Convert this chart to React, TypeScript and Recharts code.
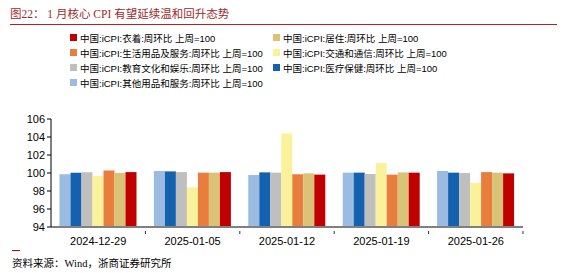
import { BarChart, Bar, XAxis, YAxis } from 'recharts'

const weeks = ['2024-12-29', '2025-01-05', '2025-01-12', '2025-01-19', '2025-01-26']

// 中国:iCPI 各分项 周环比 上周=100
const other = [99.87, 100.22, 99.78, 100.04, 100.22]
const medical = [100.03, 100.18, 100.07, 100.04, 100.04]
const education = [100.08, 100.1, 100.04, 99.89, 100.0]
const transport = [99.67, 98.4, 104.4, 101.1, 98.9]
const household = [100.28, 100.04, 99.86, 99.82, 100.1]
const housing = [100.02, 100.04, 99.96, 100.07, 100.04]
const clothing = [100.1, 100.1, 99.82, 100.04, 99.96]

const yTicks = [94, 96, 98, 100, 102, 104, 106]

const series = [
  { key: 'other', name: '中国:iCPI:其他用品和服务:周环比 上周=100', color: '#9BBBE0' },
  { key: 'medical', name: '中国:iCPI:医疗保健:周环比 上周=100', color: '#1461AF' },
  { key: 'education', name: '中国:iCPI:教育文化和娱乐:周环比 上周=100', color: '#BFBFBF' },
  { key: 'transport', name: '中国:iCPI:交通和通信:周环比 上周=100', color: '#F9F29B' },
  { key: 'household', name: '中国:iCPI:生活用品及服务:周环比 上周=100', color: '#E97D3E' },
  { key: 'housing', name: '中国:iCPI:居住:周环比 上周=100', color: '#DAC277' },
  { key: 'clothing', name: '中国:iCPI:衣着:周环比 上周=100', color: '#C00000' },
]

const legendLeft = ['clothing', 'household', 'education', 'other']
const legendRight = ['housing', 'transport', 'medical']

const data = weeks.map((w, i) => ({
  week: w,
  other: other[i],
  medical: medical[i],
  education: education[i],
  transport: transport[i],
  household: household[i],
  housing: housing[i],
  clothing: clothing[i],
}))

const cjk = '"Liberation Sans", "Noto Sans CJK SC", sans-serif'
const serif = '"Liberation Serif", "Noto Sans CJK SC", serif'

function WeekTick(props: any) {
  const { x, y, payload } = props
  const half = (523 - 51) / weeks.length / 2
  return (
    <g>
      <line x1={x + half} x2={x + half} y1={y - 4} y2={y - 1} stroke="#333" strokeWidth={1} />
      <text x={x} y={y + 10} textAnchor="middle" fontSize={11} fill="#000" fontFamily={cjk}>
        {payload.value}
      </text>
    </g>
  )
}

function LegendItem({ k }: { k: string }) {
  const s = series.find((d) => d.key === k)!
  return (
    <div style={{ display: 'flex', alignItems: 'center', height: 15, whiteSpace: 'nowrap' }}>
      <span style={{ width: 7, height: 7, background: s.color, marginRight: 3, display: 'inline-block' }} />
      <span style={{ fontSize: 9.5, fontFamily: cjk, color: '#000' }}>{s.name}</span>
    </div>
  )
}

export default function App() {
  return (
    <div style={{ position: 'absolute', left: 0, top: 0, width: 567, height: 273, background: '#fff' }}>
      <div style={{ position: 'absolute', left: 10, top: 5, fontSize: 11.5, fontFamily: serif, color: '#9E2A2B', whiteSpace: 'nowrap' }}>
        图22： 1 月核心 CPI 有望延续温和回升态势
      </div>
      <div style={{ position: 'absolute', left: 10, top: 24, width: 547, height: 1, background: '#B22222' }} />
      <div style={{ position: 'absolute', left: 70, top: 30 }}>
        {legendLeft.map((k) => <LegendItem key={k} k={k} />)}
      </div>
      <div style={{ position: 'absolute', left: 273, top: 30 }}>
        {legendRight.map((k) => <LegendItem key={k} k={k} />)}
      </div>
      <BarChart
        width={567}
        height={273}
        data={data}
        margin={{ top: 119, right: 44, bottom: 26, left: 0 }}
        barCategoryGap="9%"
        barGap={0}
        style={{ position: 'absolute', left: 0, top: 0 }}
      >
        <XAxis
          dataKey="week"
          axisLine={{ stroke: '#808080', strokeWidth: 2 }}
          tickLine={false}
          tick={<WeekTick />}
          height={20}
          interval={0}
        />
        <YAxis
          domain={[94, 106]}
          ticks={yTicks}
          width={51}
          axisLine={{ stroke: '#000' }}
          tickLine={{ stroke: '#000' }}
          tickSize={4}
          tick={{ fontSize: 11, fill: '#000', fontFamily: cjk }}
          allowDataOverflow
        />
        {series.map((s) => (
          <Bar key={s.key} dataKey={s.key} name={s.name} fill={s.color} isAnimationActive={false} />
        ))}
      </BarChart>
      <div style={{ position: 'absolute', left: 12, top: 250, width: 8, height: 1, background: '#C00000' }} />
      <div style={{ position: 'absolute', left: 12, top: 255, fontSize: 10.5, fontFamily: serif, color: '#000', whiteSpace: 'nowrap' }}>
        资料来源：Wind，浙商证券研究所
      </div>
    </div>
  )
}
